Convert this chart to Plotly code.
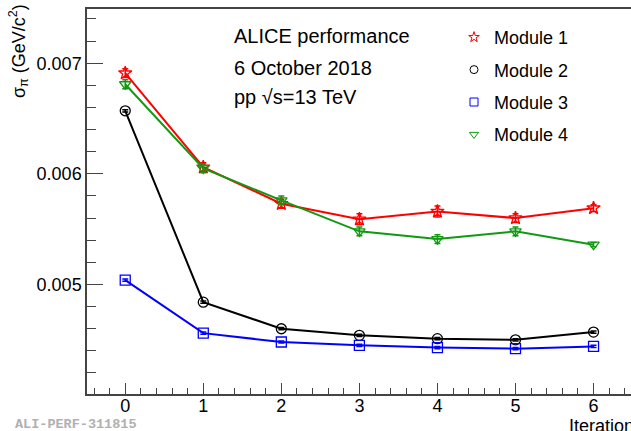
import plotly.graph_objects as go

iterations = [0, 1, 2, 3, 4, 5, 6]
module1 = [0.00691, 0.00606, 0.00573, 0.00559, 0.00566, 0.00560, 0.00569]
module1_err = [0.00004, 0.00004, 0.00004, 0.00005, 0.00005, 0.00004, 0.00003]
module2 = [0.00657, 0.00484, 0.00460, 0.00454, 0.00451, 0.00450, 0.00457]
module2_err = [0.00001, 0.00001, 0.00001, 0.00001, 0.00001, 0.00001, 0.00001]
module3 = [0.00504, 0.00456, 0.00448, 0.00445, 0.00443, 0.00442, 0.00444]
module3_err = [0.00001, 0.00001, 0.00001, 0.00001, 0.00001, 0.00001, 0.00001]
module4 = [0.00681, 0.00605, 0.00576, 0.00548, 0.00541, 0.00548, 0.00536]
module4_err = [0.00004, 0.00004, 0.00004, 0.00004, 0.00004, 0.00004, 0.00002]

names = ["Module 1", "Module 2", "Module 3", "Module 4"]
colors = ["#ff0000", "#000000", "#0000ff", "#119911"]
symbols = ["star-open", "circle-open", "square-open", "triangle-down-open"]
sizes = [10, 10, 10, 10]
series = [module1, module2, module3, module4]
errors = [module1_err, module2_err, module3_err, module4_err]

FONT = "Liberation Sans, Arial, Helvetica, sans-serif"

fig = go.Figure()
for name, col, sym, sz, ys, es in zip(names, colors, symbols, sizes, series, errors):
    fig.add_trace(go.Scatter(
        x=iterations, y=ys, mode="lines+markers",
        line=dict(color=col, width=2),
        marker=dict(symbol=sym, size=sz, color=col, line=dict(width=1.3, color=col)),
        error_y=dict(type="data", array=es, color=col, thickness=1.5, width=3),
        showlegend=False,
    ))
for i, (name, col, sym) in enumerate(zip(names, colors, symbols)):
    fig.add_trace(go.Scatter(
        x=[None], y=[None], mode="markers", name=name,
        marker=dict(symbol=sym, size=8, color=col, line=dict(width=1, color=col)),
        legendgroup=f"g{i}", showlegend=True,
    ))

axis_color = "#444444"
fig.update_layout(
    width=631, height=431,
    margin=dict(l=87, r=0, t=9, b=37),
    paper_bgcolor="white", plot_bgcolor="white",
    font=dict(family=FONT, size=18, color="black"),
    xaxis=dict(
        range=[-0.49, 6.48], dtick=1, tick0=0,
        showgrid=False, zeroline=False,
        showline=True, linecolor=axis_color, linewidth=1.5, mirror=True,
        ticks="inside", ticklen=11, tickcolor=axis_color, tickwidth=1.2,
        minor=dict(ticks="inside", ticklen=6, dtick=0.2, tick0=0, tickcolor=axis_color, tickwidth=1, showgrid=False),
        tickfont=dict(size=18, family=FONT),
        ticklabelstandoff=-5,
    ),
    yaxis=dict(
        range=[0.00401, 0.00749], dtick=0.001, tick0=0.004, tickformat=".3f",
        showgrid=False, zeroline=False,
        showline=True, linecolor=axis_color, linewidth=1.5,
        ticks="inside", ticklen=16, tickcolor=axis_color, tickwidth=1.2,
        minor=dict(ticks="inside", ticklen=9, dtick=0.0002, tick0=0.004, tickcolor=axis_color, tickwidth=1, showgrid=False),
        tickfont=dict(size=18, family=FONT),
    ),
    legend=dict(
        x=(454 - 87) / 544, y=1 - (19 - 9) / 385, xanchor="left", yanchor="top",
        bgcolor="rgba(0,0,0,0)", borderwidth=0,
        font=dict(size=18, family=FONT), tracegroupgap=6,
        itemclick=False,
    ),
)

def px_x(p):
    return (p - 87) / 544

def px_y(p):
    return (394 - p) / 385

annotations = [
    dict(text="ALICE performance", x=px_x(232), y=px_y(36)),
    dict(text="6 October 2018", x=px_x(232), y=px_y(68)),
    dict(text="pp √s=13 TeV", x=px_x(232), y=px_y(97)),
]
for a in annotations:
    fig.add_annotation(xref="paper", yref="paper", xanchor="left", yanchor="middle",
                       showarrow=False, font=dict(size=20, family=FONT, color="black"), **a)

fig.add_annotation(xref="paper", yref="paper", x=px_x(18), y=px_y(2),
                   xanchor="center", yanchor="top", textangle=-90, showarrow=False,
                   text="σ<sub>π</sub> (GeV/c<sup>2</sup>)",
                   font=dict(size=18, family=FONT, color="black"))
fig.add_annotation(xref="paper", yref="paper", x=px_x(567), y=px_y(426),
                   xanchor="left", yanchor="middle", showarrow=False,
                   text="Iteration", font=dict(size=18, family=FONT, color="black"))
fig.add_annotation(xref="paper", yref="paper", x=px_x(13), y=px_y(424),
                   xanchor="left", yanchor="middle", showarrow=False,
                   text="<b>ALI-PERF-311815</b>",
                   font=dict(size=13.5, family="Liberation Mono, Courier New, monospace", color="#b0b0b0"))

fig.write_html("out.html")
